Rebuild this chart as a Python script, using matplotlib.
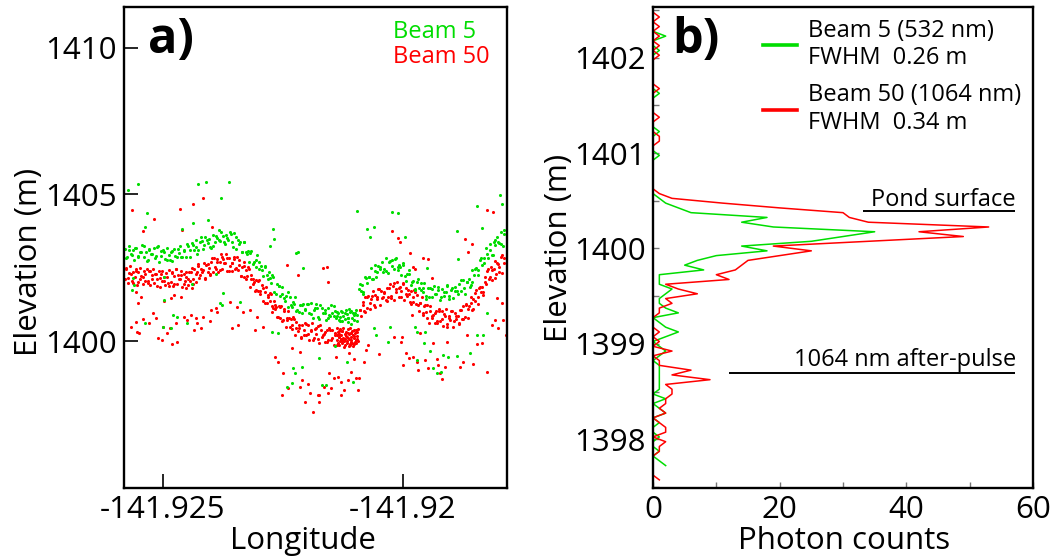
import numpy as np
import matplotlib
matplotlib.use("Agg")
import matplotlib.pyplot as plt
from matplotlib.ticker import MultipleLocator

plt.rcParams['font.family'] = ['Open Sans', 'DejaVu Sans']

GREEN = '#00dd00'
RED = '#ff0000'

# ---------------- panel a: photon returns (longitude, elevation) ----------------
# Beam 5 (532 nm) surface returns
beam5_band = [
    (-141.92578, 1403.15), (-141.92575, 1402.85), (-141.92571, 1403.25), (-141.92567, 1402.97), (-141.92563, 1403.10),
    (-141.92560, 1402.78), (-141.92556, 1403.18), (-141.92551, 1402.89), (-141.92547, 1403.02), (-141.92544, 1403.26),
    (-141.92540, 1402.85), (-141.92535, 1403.04), (-141.92531, 1402.78), (-141.92528, 1403.13), (-141.92524, 1402.96),
    (-141.92519, 1403.17), (-141.92515, 1402.89), (-141.92512, 1403.21), (-141.92508, 1402.70), (-141.92503, 1403.07),
    (-141.92499, 1403.09), (-141.92496, 1402.79), (-141.92492, 1403.19), (-141.92487, 1402.92), (-141.92483, 1403.05),
    (-141.92480, 1402.73), (-141.92476, 1403.14), (-141.92471, 1402.86), (-141.92467, 1402.99), (-141.92464, 1403.24),
    (-141.92460, 1402.86), (-141.92455, 1403.09), (-141.92451, 1402.86), (-141.92448, 1403.23), (-141.92444, 1403.10),
    (-141.92439, 1403.35), (-141.92435, 1403.09), (-141.92432, 1403.45), (-141.92428, 1402.96), (-141.92423, 1403.37),
    (-141.92419, 1403.42), (-141.92416, 1403.14), (-141.92412, 1403.56), (-141.92407, 1403.33), (-141.92403, 1403.48),
    (-141.92400, 1403.18), (-141.92396, 1403.62), (-141.92391, 1403.37), (-141.92387, 1403.53), (-141.92384, 1403.79),
    (-141.92380, 1403.40), (-141.92375, 1403.58), (-141.92371, 1403.30), (-141.92368, 1403.63), (-141.92364, 1403.46),
    (-141.92359, 1403.66), (-141.92355, 1403.37), (-141.92352, 1403.69), (-141.92348, 1403.14), (-141.92343, 1403.43),
    (-141.92339, 1403.38), (-141.92336, 1403.03), (-141.92332, 1403.37), (-141.92327, 1403.02), (-141.92323, 1403.08),
    (-141.92320, 1402.71), (-141.92316, 1403.06), (-141.92311, 1402.69), (-141.92307, 1402.76), (-141.92304, 1402.95),
    (-141.92300, 1402.47), (-141.92295, 1402.57), (-141.92291, 1402.23), (-141.92288, 1402.51), (-141.92284, 1402.26),
    (-141.92279, 1402.36), (-141.92275, 1401.99), (-141.92272, 1402.26), (-141.92268, 1401.66), (-141.92263, 1401.93),
    (-141.92259, 1401.88), (-141.92256, 1401.52), (-141.92252, 1401.84), (-141.92247, 1401.48), (-141.92243, 1401.53),
    (-141.92240, 1401.16), (-141.92236, 1401.49), (-141.92231, 1401.17), (-141.92227, 1401.27), (-141.92224, 1401.50),
    (-141.92220, 1401.06), (-141.92215, 1401.23), (-141.92211, 1400.95), (-141.92208, 1401.28), (-141.92204, 1401.10),
    (-141.92199, 1401.28), (-141.92195, 1400.97), (-141.92192, 1401.30), (-141.92188, 1400.77), (-141.92183, 1401.13),
    (-141.92179, 1401.14), (-141.92176, 1400.83), (-141.92172, 1401.22), (-141.92167, 1400.94), (-141.92163, 1401.06),
    (-141.92160, 1400.73), (-141.92156, 1401.13), (-141.92151, 1400.84), (-141.92147, 1400.96), (-141.92144, 1401.19),
    (-141.92140, 1400.78), (-141.92135, 1400.97), (-141.92131, 1400.70), (-141.92128, 1401.04), (-141.92124, 1400.87),
    (-141.92119, 1401.07), (-141.92115, 1400.78), (-141.92112, 1401.10), (-141.92108, 1400.58), (-141.92103, 1400.95),
    (-141.92099, 1400.97), (-141.92096, 1400.67),
    (-141.92153, 1400.88), (-141.92142, 1401.02), (-141.92137, 1400.86), (-141.92126, 1400.99), (-141.92121, 1400.74),
    (-141.92117, 1400.93), (-141.92110, 1401.00), (-141.92106, 1400.80), (-141.92101, 1400.90), (-141.92097, 1401.05),
    (-141.92114, 1400.66), (-141.92130, 1400.83),
    (-141.92091, 1401.77), (-141.92088, 1401.70), (-141.92085, 1401.90), (-141.92082, 1401.66), (-141.92078, 1402.17),
    (-141.92074, 1401.99), (-141.92071, 1402.20), (-141.92067, 1402.50), (-141.92063, 1402.13), (-141.92059, 1402.38),
    (-141.92055, 1402.17), (-141.92051, 1402.56), (-141.92047, 1402.45), (-141.92043, 1402.71), (-141.92039, 1402.47),
    (-141.92035, 1402.82), (-141.92031, 1402.33), (-141.92027, 1402.72), (-141.92023, 1402.76), (-141.92019, 1402.46),
    (-141.92015, 1402.82), (-141.92011, 1402.51), (-141.92007, 1402.60), (-141.92003, 1402.24), (-141.91999, 1402.60),
    (-141.91995, 1402.23), (-141.91991, 1402.27), (-141.91987, 1402.42), (-141.91983, 1401.92), (-141.91979, 1402.04),
    (-141.91975, 1401.73), (-141.91971, 1402.03), (-141.91967, 1401.82), (-141.91963, 1401.98), (-141.91959, 1401.66),
    (-141.91955, 1401.97), (-141.91951, 1401.45), (-141.91947, 1401.81), (-141.91943, 1401.82), (-141.91939, 1401.51),
    (-141.91935, 1401.89), (-141.91931, 1401.61), (-141.91927, 1401.73), (-141.91923, 1401.39), (-141.91919, 1401.79),
    (-141.91915, 1401.52), (-141.91911, 1401.66), (-141.91907, 1401.91), (-141.91903, 1401.52), (-141.91899, 1401.73),
    (-141.91895, 1401.48), (-141.91891, 1401.84), (-141.91887, 1401.71), (-141.91883, 1401.96), (-141.91879, 1401.72),
    (-141.91875, 1402.09), (-141.91871, 1401.62), (-141.91867, 1402.03), (-141.91863, 1402.12), (-141.91859, 1401.92),
    (-141.91855, 1402.42), (-141.91851, 1402.25), (-141.91847, 1402.48), (-141.91843, 1402.26), (-141.91839, 1402.77),
    (-141.91835, 1402.59), (-141.91831, 1402.82), (-141.91827, 1403.16), (-141.91823, 1402.84), (-141.91819, 1403.12),
    (-141.91815, 1402.94), (-141.91811, 1403.37), (-141.91807, 1403.29), (-141.91803, 1403.56), (-141.91799, 1403.33),
    (-141.91795, 1403.71), (-141.91791, 1403.24), (-141.91789, 1403.64),
    # second sweep along the track
    (-141.92576, 1402.83), (-141.92570, 1403.12), (-141.92564, 1402.95), (-141.92558, 1403.19), (-141.92552, 1402.87),
    (-141.92546, 1403.03), (-141.92540, 1403.23), (-141.92534, 1402.74), (-141.92528, 1403.12), (-141.92522, 1402.97),
    (-141.92516, 1402.82), (-141.92510, 1403.24), (-141.92504, 1402.91), (-141.92498, 1403.04), (-141.92492, 1402.78),
    (-141.92486, 1402.77), (-141.92480, 1403.06), (-141.92474, 1402.90), (-141.92468, 1403.15), (-141.92462, 1402.86),
    (-141.92456, 1403.06), (-141.92450, 1403.30), (-141.92444, 1402.87), (-141.92438, 1403.29), (-141.92432, 1403.20),
    (-141.92426, 1403.09), (-141.92420, 1403.56), (-141.92414, 1403.27), (-141.92408, 1403.44), (-141.92402, 1403.22),
    (-141.92396, 1403.25), (-141.92390, 1403.58), (-141.92384, 1403.46), (-141.92378, 1403.72), (-141.92372, 1403.39),
    (-141.92366, 1403.53), (-141.92360, 1403.71), (-141.92354, 1403.21), (-141.92348, 1403.54), (-141.92342, 1403.30),
    (-141.92336, 1403.05), (-141.92330, 1403.39), (-141.92324, 1402.96), (-141.92318, 1402.99), (-141.92312, 1402.63),
    (-141.92306, 1402.52), (-141.92300, 1402.71), (-141.92294, 1402.43), (-141.92288, 1402.55), (-141.92282, 1402.11),
    (-141.92276, 1402.14), (-141.92270, 1402.20), (-141.92264, 1401.60), (-141.92258, 1401.87), (-141.92252, 1401.61),
    (-141.92246, 1401.35), (-141.92240, 1401.67), (-141.92234, 1401.24), (-141.92228, 1401.33), (-141.92222, 1401.03),
    (-141.92216, 1400.99), (-141.92210, 1401.24), (-141.92204, 1401.05), (-141.92198, 1401.26), (-141.92192, 1400.93),
    (-141.92186, 1401.07), (-141.92180, 1401.25), (-141.92174, 1400.76), (-141.92168, 1401.12), (-141.92162, 1400.96),
    (-141.92156, 1400.80), (-141.92150, 1401.22), (-141.92144, 1400.87), (-141.92138, 1400.99), (-141.92132, 1400.72),
    (-141.92126, 1400.69), (-141.92120, 1400.97), (-141.92114, 1400.79), (-141.92108, 1401.03), (-141.92102, 1400.72),
    (-141.92096, 1400.88), (-141.92089, 1401.93), (-141.92083, 1401.62), (-141.92077, 1402.16), (-141.92071, 1402.17),
    (-141.92065, 1402.10), (-141.92059, 1402.60), (-141.92053, 1402.34), (-141.92047, 1402.54), (-141.92041, 1402.35),
    (-141.92035, 1402.38), (-141.92029, 1402.70), (-141.92023, 1402.57), (-141.92017, 1402.80), (-141.92011, 1402.43),
    (-141.92005, 1402.53), (-141.91999, 1402.66), (-141.91993, 1402.04), (-141.91987, 1402.29), (-141.91981, 1402.01),
    (-141.91975, 1401.78), (-141.91969, 1402.13), (-141.91963, 1401.73), (-141.91957, 1401.81), (-141.91951, 1401.53),
    (-141.91945, 1401.50), (-141.91939, 1401.78), (-141.91933, 1401.60), (-141.91927, 1401.83), (-141.91921, 1401.49),
    (-141.91915, 1401.66), (-141.91909, 1401.88), (-141.91903, 1401.42), (-141.91897, 1401.81), (-141.91891, 1401.69),
    (-141.91885, 1401.59), (-141.91879, 1402.08), (-141.91873, 1401.81), (-141.91867, 1402.00), (-141.91861, 1401.86),
    (-141.91855, 1402.00), (-141.91849, 1402.44), (-141.91843, 1402.43), (-141.91837, 1402.83), (-141.91831, 1402.67),
    (-141.91825, 1402.98), (-141.91819, 1403.30), (-141.91813, 1402.94), (-141.91807, 1403.44), (-141.91801, 1403.39),
    (-141.91795, 1403.31), (-141.91790, 1403.80),
]

# Beam 5 scattered (background / sub-surface) photons
beam5_noise = [
    (-141.92573, 1405.15), (-141.92552, 1405.35), (-141.92427, 1405.35), (-141.92410, 1405.42), (-141.92362, 1405.42),
    (-141.92379, 1404.88), (-141.92533, 1404.36), (-141.92460, 1403.82), (-141.92406, 1404.12), (-141.92438, 1404.02),
    (-141.92537, 1403.89), (-141.92271, 1403.82), (-141.92269, 1403.48), (-141.92277, 1403.24), (-141.92219, 1403.03),
    (-141.92208, 1402.49), (-141.92096, 1404.43), (-141.92075, 1403.82), (-141.92069, 1403.55), (-141.92023, 1404.40),
    (-141.92010, 1404.36), (-141.92060, 1403.89), (-141.91996, 1403.55), (-141.91846, 1404.60), (-141.91798, 1404.98),
    (-141.91794, 1404.67), (-141.91835, 1403.85), (-141.91887, 1403.75), (-141.91950, 1402.49), (-141.91885, 1402.80),
    (-141.92229, 1399.08), (-141.92242, 1398.43), (-141.92210, 1399.11), (-141.92169, 1398.50), (-141.92117, 1399.28),
    (-141.92142, 1399.83), (-141.91938, 1399.08), (-141.91929, 1398.91), (-141.91906, 1399.45), (-141.91846, 1400.20),
    (-141.91971, 1400.31), (-141.92027, 1400.48), (-141.92537, 1400.61), (-141.92500, 1400.48), (-141.92340, 1401.33),
    (-141.92381, 1401.30), (-141.92479, 1400.89), (-141.92562, 1402.15), (-141.92498, 1401.40), (-141.92377, 1401.23),
    (-141.92471, 1400.82), (-141.92483, 1400.44), (-141.92450, 1400.61), (-141.92565, 1401.74), (-141.92375, 1401.64),
    (-141.92223, 1403.00), (-141.92260, 1400.27), (-141.92273, 1400.31), (-141.92225, 1398.91), (-141.92231, 1398.57),
    (-141.91975, 1400.48), (-141.92060, 1400.44), (-141.92056, 1400.20), (-141.92031, 1399.97), (-141.92175, 1399.42),
    (-141.92104, 1398.60), (-141.92160, 1398.50), (-141.91954, 1400.31), (-141.91956, 1399.93), (-141.91971, 1399.35),
    (-141.91944, 1399.66), (-141.91917, 1399.52), (-141.91887, 1399.49), (-141.91860, 1399.59), (-141.91921, 1398.94),
    (-141.91833, 1400.20), (-141.91825, 1400.95), (-141.92498, 1402.20), (-141.92440, 1401.95), (-141.92560, 1401.90),
    (-141.92390, 1402.30),
]

# Beam 50 (1064 nm) surface returns
beam50_band = [
    (-141.92578, 1402.11), (-141.92576, 1402.46), (-141.92573, 1401.97), (-141.92570, 1402.31), (-141.92568, 1402.55),
    (-141.92565, 1402.05), (-141.92562, 1402.35), (-141.92559, 1402.18), (-141.92557, 1402.47), (-141.92554, 1401.91),
    (-141.92551, 1402.37), (-141.92548, 1402.13), (-141.92545, 1402.22), (-141.92542, 1401.96), (-141.92540, 1402.38),
    (-141.92537, 1402.04), (-141.92534, 1402.47), (-141.92531, 1402.04), (-141.92529, 1402.39), (-141.92526, 1401.90),
    (-141.92523, 1402.24), (-141.92520, 1402.47), (-141.92518, 1401.97), (-141.92515, 1402.28), (-141.92512, 1402.13),
    (-141.92509, 1402.40), (-141.92507, 1401.84), (-141.92504, 1402.30), (-141.92501, 1402.06), (-141.92498, 1402.17),
    (-141.92496, 1401.91), (-141.92493, 1402.33), (-141.92490, 1401.99), (-141.92487, 1402.42), (-141.92484, 1402.01),
    (-141.92482, 1402.36), (-141.92479, 1401.87), (-141.92476, 1402.21), (-141.92473, 1402.45), (-141.92471, 1401.95),
    (-141.92468, 1402.26), (-141.92465, 1402.11), (-141.92462, 1402.40), (-141.92460, 1401.84), (-141.92457, 1402.30),
    (-141.92454, 1402.06), (-141.92451, 1402.17), (-141.92448, 1401.92), (-141.92446, 1402.36), (-141.92443, 1402.04),
    (-141.92440, 1402.49), (-141.92437, 1402.10), (-141.92435, 1402.47), (-141.92432, 1402.00), (-141.92429, 1402.36),
    (-141.92426, 1402.62), (-141.92424, 1402.14), (-141.92421, 1402.47), (-141.92418, 1402.34), (-141.92415, 1402.65),
    (-141.92413, 1402.10), (-141.92410, 1402.59), (-141.92407, 1402.37), (-141.92404, 1402.50), (-141.92402, 1402.25),
    (-141.92399, 1402.69), (-141.92396, 1402.37), (-141.92393, 1402.83), (-141.92390, 1402.44), (-141.92388, 1402.81),
    (-141.92385, 1402.34), (-141.92382, 1402.70), (-141.92379, 1402.96), (-141.92377, 1402.47), (-141.92374, 1402.80),
    (-141.92371, 1402.67), (-141.92368, 1402.96), (-141.92366, 1402.39), (-141.92363, 1402.83), (-141.92360, 1402.57),
    (-141.92357, 1402.67), (-141.92355, 1402.40), (-141.92352, 1402.80), (-141.92349, 1402.44), (-141.92346, 1402.86),
    (-141.92343, 1402.43), (-141.92341, 1402.77), (-141.92338, 1402.23), (-141.92335, 1402.52), (-141.92332, 1402.70),
    (-141.92330, 1402.17), (-141.92327, 1402.42), (-141.92324, 1402.22), (-141.92321, 1402.45), (-141.92319, 1401.85),
    (-141.92316, 1402.26), (-141.92313, 1401.96), (-141.92310, 1402.02), (-141.92308, 1401.72), (-141.92305, 1402.09),
    (-141.92302, 1401.69), (-141.92299, 1402.07), (-141.92297, 1401.62), (-141.92294, 1401.92), (-141.92291, 1401.37),
    (-141.92288, 1401.66), (-141.92286, 1401.86), (-141.92283, 1401.30), (-141.92280, 1401.56), (-141.92277, 1401.35),
    (-141.92275, 1401.60), (-141.92272, 1400.98), (-141.92269, 1401.38), (-141.92266, 1401.08), (-141.92264, 1401.15),
    (-141.92261, 1400.83), (-141.92258, 1401.19), (-141.92255, 1400.79), (-141.92253, 1401.18), (-141.92250, 1400.71),
    (-141.92247, 1401.02), (-141.92244, 1400.49), (-141.92241, 1400.80), (-141.92239, 1401.01), (-141.92236, 1400.47),
    (-141.92233, 1400.74), (-141.92230, 1400.55), (-141.92228, 1400.82), (-141.92225, 1400.22), (-141.92222, 1400.64),
    (-141.92219, 1400.36), (-141.92216, 1400.43), (-141.92213, 1400.15), (-141.92210, 1400.56), (-141.92207, 1400.21),
    (-141.92204, 1400.63), (-141.92201, 1400.21), (-141.92198, 1400.55), (-141.92195, 1400.05), (-141.92192, 1400.38),
    (-141.92189, 1400.61), (-141.92186, 1400.10), (-141.92183, 1400.40), (-141.92180, 1400.24), (-141.92177, 1400.52),
    (-141.92174, 1399.94), (-141.92171, 1400.39), (-141.92168, 1400.15), (-141.92165, 1400.25), (-141.92162, 1399.98),
    (-141.92159, 1400.39), (-141.92156, 1400.04), (-141.92153, 1400.46), (-141.92150, 1400.04), (-141.92147, 1400.38),
    (-141.92144, 1399.88), (-141.92141, 1400.21), (-141.92138, 1400.45), (-141.92135, 1399.94), (-141.92132, 1400.24),
    (-141.92129, 1400.08), (-141.92126, 1400.36), (-141.92123, 1399.80), (-141.92120, 1400.25), (-141.92117, 1400.01),
    (-141.92114, 1400.12), (-141.92111, 1399.86), (-141.92108, 1400.28), (-141.92105, 1399.94), (-141.92102, 1400.37),
    (-141.92099, 1399.96), (-141.92096, 1400.31),
    (-141.92138, 1400.02), (-141.92136, 1400.30), (-141.92134, 1400.15), (-141.92133, 1399.85), (-141.92131, 1400.40),
    (-141.92130, 1400.00), (-141.92128, 1400.20), (-141.92127, 1399.92), (-141.92125, 1400.12), (-141.92124, 1400.44),
    (-141.92122, 1400.05), (-141.92121, 1399.88), (-141.92119, 1400.32), (-141.92118, 1400.18), (-141.92116, 1399.95),
    (-141.92115, 1400.42), (-141.92113, 1400.08), (-141.92112, 1400.25), (-141.92110, 1399.90), (-141.92109, 1400.14),
    (-141.92107, 1400.02), (-141.92106, 1400.35), (-141.92104, 1400.20), (-141.92103, 1399.84), (-141.92101, 1400.10),
    (-141.92100, 1400.28), (-141.92098, 1400.05), (-141.92097, 1399.93), (-141.92095, 1400.17), (-141.92094, 1400.40),
    (-141.92093, 1400.00), (-141.92137, 1400.22), (-141.92132, 1400.36), (-141.92126, 1400.00), (-141.92120, 1400.06),
    (-141.92114, 1400.28), (-141.92108, 1399.98), (-141.92102, 1400.16), (-141.92096, 1400.08), (-141.92111, 1400.45),
    (-141.92090, 1401.07), (-141.92087, 1400.86), (-141.92084, 1401.32), (-141.92081, 1401.03), (-141.92078, 1401.50),
    (-141.92075, 1401.14), (-141.92072, 1401.53), (-141.92069, 1401.08), (-141.92066, 1401.45), (-141.92063, 1401.71),
    (-141.92060, 1401.24), (-141.92057, 1401.58), (-141.92054, 1401.45), (-141.92051, 1401.77), (-141.92048, 1401.24),
    (-141.92045, 1401.72), (-141.92042, 1401.51), (-141.92039, 1401.64), (-141.92036, 1401.39), (-141.92033, 1401.82),
    (-141.92030, 1401.49), (-141.92027, 1401.93), (-141.92024, 1401.53), (-141.92021, 1401.89), (-141.92018, 1401.41),
    (-141.92015, 1401.76), (-141.92012, 1402.00), (-141.92009, 1401.51), (-141.92006, 1401.83), (-141.92003, 1401.69),
    (-141.92000, 1401.99), (-141.91997, 1401.40), (-141.91994, 1401.82), (-141.91991, 1401.54), (-141.91988, 1401.62),
    (-141.91985, 1401.32), (-141.91982, 1401.71), (-141.91979, 1401.33), (-141.91976, 1401.73), (-141.91973, 1401.27),
    (-141.91970, 1401.57), (-141.91967, 1401.02), (-141.91964, 1401.31), (-141.91961, 1401.50), (-141.91958, 1400.94),
    (-141.91955, 1401.20), (-141.91952, 1400.99), (-141.91949, 1401.23), (-141.91946, 1400.62), (-141.91943, 1401.04),
    (-141.91940, 1400.79), (-141.91937, 1400.89), (-141.91934, 1400.62), (-141.91931, 1401.03), (-141.91928, 1400.68),
    (-141.91925, 1401.10), (-141.91922, 1400.68), (-141.91919, 1401.02), (-141.91916, 1400.52), (-141.91913, 1400.85),
    (-141.91910, 1401.08), (-141.91907, 1400.57), (-141.91904, 1400.87), (-141.91901, 1400.72), (-141.91898, 1401.03),
    (-141.91895, 1400.49), (-141.91892, 1400.97), (-141.91889, 1400.74), (-141.91886, 1400.87), (-141.91883, 1400.63),
    (-141.91880, 1401.07), (-141.91877, 1400.75), (-141.91874, 1401.20), (-141.91871, 1400.81), (-141.91868, 1401.22),
    (-141.91865, 1400.80), (-141.91862, 1401.20), (-141.91859, 1401.51), (-141.91856, 1401.07), (-141.91853, 1401.45),
    (-141.91850, 1401.36), (-141.91847, 1401.74), (-141.91844, 1401.26), (-141.91841, 1401.81), (-141.91838, 1401.66),
    (-141.91835, 1401.86), (-141.91832, 1401.68), (-141.91829, 1402.19), (-141.91826, 1401.94), (-141.91823, 1402.45),
    (-141.91820, 1402.13), (-141.91817, 1402.54), (-141.91814, 1402.09), (-141.91811, 1402.46), (-141.91808, 1402.74),
    (-141.91805, 1402.28), (-141.91802, 1402.63), (-141.91799, 1402.52), (-141.91796, 1402.85), (-141.91793, 1402.33),
    (-141.91790, 1402.82),
    # second sweep along the track
    (-141.92577, 1402.49), (-141.92572, 1402.15), (-141.92567, 1402.28), (-141.92562, 1401.97), (-141.92557, 1402.38),
    (-141.92552, 1402.03), (-141.92547, 1402.50), (-141.92542, 1402.18), (-141.92537, 1402.29), (-141.92532, 1401.97),
    (-141.92527, 1402.38), (-141.92522, 1402.11), (-141.92517, 1402.30), (-141.92512, 1401.87), (-141.92507, 1402.16),
    (-141.92502, 1402.39), (-141.92497, 1402.05), (-141.92492, 1402.19), (-141.92487, 1401.88), (-141.92482, 1402.31),
    (-141.92477, 1401.96), (-141.92472, 1402.44), (-141.92467, 1402.13), (-141.92462, 1402.24), (-141.92457, 1401.93),
    (-141.92452, 1402.35), (-141.92447, 1402.11), (-141.92442, 1402.34), (-141.92437, 1401.95), (-141.92432, 1402.29),
    (-141.92427, 1402.55), (-141.92422, 1402.25), (-141.92417, 1402.43), (-141.92412, 1402.15), (-141.92407, 1402.62),
    (-141.92402, 1402.30), (-141.92397, 1402.82), (-141.92392, 1402.54), (-141.92387, 1402.69), (-141.92382, 1402.42),
    (-141.92377, 1402.87), (-141.92372, 1402.65), (-141.92367, 1402.83), (-141.92362, 1402.38), (-141.92357, 1402.66),
    (-141.92352, 1402.86), (-141.92347, 1402.49), (-141.92342, 1402.60), (-141.92337, 1402.23), (-141.92332, 1402.56),
    (-141.92327, 1402.12), (-141.92322, 1402.51), (-141.92317, 1402.11), (-141.92312, 1402.13), (-141.92307, 1401.73),
    (-141.92302, 1402.05), (-141.92297, 1401.70), (-141.92292, 1401.80), (-141.92287, 1401.29), (-141.92282, 1401.50),
    (-141.92277, 1401.63), (-141.92272, 1401.19), (-141.92267, 1401.23), (-141.92262, 1400.82), (-141.92257, 1401.15),
    (-141.92252, 1400.70), (-141.92247, 1401.10), (-141.92242, 1400.73), (-141.92237, 1400.77), (-141.92232, 1400.40),
    (-141.92227, 1400.75), (-141.92222, 1400.43), (-141.92217, 1400.56), (-141.92212, 1400.10), (-141.92207, 1400.38),
    (-141.92202, 1400.59), (-141.92197, 1400.24), (-141.92192, 1400.36), (-141.92187, 1400.03), (-141.92182, 1400.44),
    (-141.92177, 1400.07), (-141.92172, 1400.54), (-141.92167, 1400.21), (-141.92162, 1400.31), (-141.92157, 1399.98),
    (-141.92152, 1400.39), (-141.92147, 1400.11), (-141.92142, 1400.29), (-141.92137, 1399.85), (-141.92132, 1400.14),
    (-141.92127, 1400.36), (-141.92122, 1400.00), (-141.92117, 1400.14), (-141.92112, 1399.83), (-141.92107, 1400.26),
    (-141.92102, 1399.91), (-141.92097, 1400.39), (-141.92089, 1401.05), (-141.92084, 1401.23), (-141.92079, 1401.00),
    (-141.92074, 1401.49), (-141.92069, 1401.30), (-141.92064, 1401.53), (-141.92059, 1401.16), (-141.92054, 1401.50),
    (-141.92049, 1401.78), (-141.92044, 1401.48), (-141.92039, 1401.66), (-141.92034, 1401.37), (-141.92029, 1401.81),
    (-141.92024, 1401.48), (-141.92019, 1401.97), (-141.92014, 1401.68), (-141.92009, 1401.80), (-141.92004, 1401.51),
    (-141.91999, 1401.93), (-141.91994, 1401.61), (-141.91989, 1401.74), (-141.91984, 1401.26), (-141.91979, 1401.50),
    (-141.91974, 1401.67), (-141.91969, 1401.24), (-141.91964, 1401.29), (-141.91959, 1400.89), (-141.91954, 1401.23),
    (-141.91949, 1400.79), (-141.91944, 1401.18), (-141.91939, 1400.86), (-141.91934, 1400.95), (-141.91929, 1400.62),
    (-141.91924, 1401.02), (-141.91919, 1400.75), (-141.91914, 1400.92), (-141.91909, 1400.48), (-141.91904, 1400.77),
    (-141.91899, 1401.01), (-141.91894, 1400.70), (-141.91889, 1400.87), (-141.91884, 1400.59), (-141.91879, 1401.06),
    (-141.91874, 1400.74), (-141.91869, 1401.28), (-141.91864, 1401.08), (-141.91859, 1401.30), (-141.91854, 1401.09),
    (-141.91849, 1401.63), (-141.91844, 1401.51), (-141.91839, 1401.85), (-141.91834, 1401.57), (-141.91829, 1402.02),
    (-141.91824, 1402.39), (-141.91819, 1402.20), (-141.91814, 1402.41), (-141.91809, 1402.16), (-141.91804, 1402.66),
    (-141.91799, 1402.37), (-141.91794, 1402.92), (-141.91789, 1402.67),
]

# Beam 50 scattered photons (above surface and the after-pulse cloud below it)
beam50_noise = [
    (-141.92565, 1404.47), (-141.92465, 1404.50), (-141.92438, 1404.67), (-141.92417, 1404.88), (-141.92519, 1404.16),
    (-141.92460, 1403.78), (-141.92167, 1402.49), (-141.92158, 1402.52), (-141.92023, 1403.75), (-141.92010, 1403.51),
    (-141.92006, 1403.38), (-141.91958, 1402.83), (-141.91979, 1402.52), (-141.91825, 1404.47), (-141.91871, 1403.48),
    (-141.92242, 1402.59), (-141.92219, 1402.25), (-141.92542, 1403.75), (-141.92398, 1403.89), (-141.92156, 1402.01),
    (-141.91812, 1404.40), (-141.91856, 1403.30), (-141.91865, 1403.03), (-141.91975, 1402.45), (-141.91948, 1402.80),
    (-141.91985, 1403.00), (-141.91940, 1402.15), (-141.91794, 1401.30), (-141.91804, 1401.47),
    (-141.92567, 1400.48), (-141.92556, 1400.65), (-141.92554, 1400.31), (-141.92550, 1400.27), (-141.92542, 1400.75),
    (-141.92529, 1400.61), (-141.92521, 1400.95), (-141.92515, 1400.78), (-141.92510, 1400.10), (-141.92502, 1400.03),
    (-141.92500, 1400.48), (-141.92492, 1400.27), (-141.92485, 1400.44), (-141.92481, 1399.90), (-141.92473, 1400.61),
    (-141.92471, 1399.97), (-141.92456, 1400.82), (-141.92450, 1400.72), (-141.92442, 1400.89), (-141.92431, 1400.78),
    (-141.92429, 1400.61), (-141.92435, 1400.38), (-141.92421, 1400.44), (-141.92417, 1400.82), (-141.92402, 1400.68),
    (-141.92400, 1401.06), (-141.92390, 1401.13), (-141.92387, 1400.99), (-141.92556, 1401.67), (-141.92546, 1401.50),
    (-141.92477, 1401.57), (-141.92462, 1401.50), (-141.92483, 1401.47), (-141.92552, 1401.30), (-141.92498, 1401.36),
    (-141.92452, 1401.81), (-141.92440, 1401.81),
    (-141.92360, 1401.33), (-141.92346, 1401.16), (-141.92333, 1400.99), (-141.92344, 1400.55), (-141.92356, 1400.44),
    (-141.92319, 1401.06), (-141.92308, 1400.38), (-141.92304, 1400.82), (-141.92292, 1400.48), (-141.92271, 1401.13),
    (-141.92267, 1399.45), (-141.92260, 1399.28), (-141.92250, 1398.91), (-141.92240, 1398.40), (-141.92252, 1398.16),
    (-141.92210, 1398.67), (-141.92215, 1398.43), (-141.92198, 1398.53), (-141.92194, 1398.23), (-141.92204, 1397.92),
    (-141.92187, 1397.58), (-141.92177, 1398.16), (-141.92215, 1399.62), (-141.92231, 1399.76),
    (-141.92154, 1398.91), (-141.92144, 1398.74), (-141.92135, 1398.77), (-141.92129, 1398.60), (-141.92123, 1398.33),
    (-141.92115, 1398.67), (-141.92108, 1398.94), (-141.92098, 1398.74), (-141.92092, 1398.74), (-141.92094, 1398.33),
    (-141.92150, 1398.40), (-141.92165, 1398.43), (-141.92175, 1398.16), (-141.92156, 1398.23), (-141.92129, 1398.16),
    (-141.92175, 1397.92), (-141.92077, 1399.69), (-141.92073, 1399.86), (-141.92050, 1399.55), (-141.92019, 1400.14),
    (-141.92004, 1399.97), (-141.92002, 1400.14), (-141.91994, 1399.59), (-141.92000, 1399.18), (-141.91987, 1399.42),
    (-141.92102, 1399.39), (-141.92081, 1399.28), (-141.92112, 1399.59), (-141.92140, 1399.45),
    (-141.91981, 1400.89), (-141.91965, 1400.27), (-141.91937, 1399.93), (-141.91908, 1399.97), (-141.91867, 1400.20),
    (-141.91846, 1399.90), (-141.91835, 1399.93), (-141.91815, 1400.55), (-141.91808, 1400.72), (-141.91802, 1400.44),
    (-141.91792, 1400.72), (-141.91786, 1400.20), (-141.91979, 1399.45), (-141.91971, 1399.28), (-141.91954, 1399.35),
    (-141.91948, 1399.08), (-141.91929, 1399.39), (-141.91927, 1399.18), (-141.91923, 1398.91), (-141.91969, 1399.01),
    (-141.91912, 1399.11), (-141.91881, 1399.11), (-141.91875, 1399.28), (-141.91854, 1399.22), (-141.91825, 1398.94),
    (-141.91919, 1398.70),
]

# ---------------- panel b: photon-count profiles, 5 cm bins from the top down ----------------
bin_top = 1402.475
bin_step = 0.05
counts5 = [
    0, 0, 0, 0, 0, 2, 0, 0, 1, 0,
    0, 0, 0, 0, 0, 0, 0, 1, 0, 0,
    0, 0, 0, 0, 0, 1, 0, 0, 0, 0,
    1, 0, 0, 0, 0, 0, 0, 0, 0, 1,
    2, 4, 6, 18, 14, 19, 35, 30, 25, 14,
    18, 10, 7, 5, 8, 1, 1, 1, 3, 2,
    1, 1, 2, 4, 0, 1, 2, 4, 2, 0,
    1, 2, 1, 0, 1, 1, 1, 1, 1, 1,
    0, 2, 0, 1, 2, 0, 1, 0, 0, 1,
    0, 0, 1, 0, 1, 2,
]
counts50 = [
    0, 1, 0, 1, 0, 1, 0, 1, 0, 1,
    0, 0, 0, 0, 0, 0, 1, 0, 0, 0,
    0, 0, 1, 0, 0, 0, 1, 1, 0, 0,
    0, 0, 0, 0, 0, 0, 0, 0, 1, 3,
    11, 20, 30, 31, 34, 53, 42, 49, 34, 19,
    25, 20, 15, 14, 13, 10, 12, 2, 4, 7,
    2, 3, 1, 1, 0, 0, 0, 1, 0, 1,
    0, 3, 0, 1, 1, 6, 3, 9, 2, 3,
    3, 2, 2, 1, 2, 0, 1, 2, 2, 0,
    2, 1, 1, 0, 0, 0, 0, 0, 1,
]
fwhm5 = 0.26
fwhm50 = 0.34
surface_elev = 1400.39
afterpulse_elev = 1398.69

# ---------------- figure ----------------
fig = plt.figure(figsize=(10.62, 5.6), dpi=100)
ax1 = fig.add_axes([124 / 1062, 72 / 560, 383 / 1062, 481 / 560])
ax2 = fig.add_axes([653 / 1062, 72 / 560, 380 / 1062, 481 / 560])

TICK_FS = 22.5
SMALL_FS = 17

# panel a
lon50, el50 = np.array(beam50_band + beam50_noise).T
lon5, el5 = np.array(beam5_band + beam5_noise).T
ax1.scatter(lon50, el50, s=5, marker='o', color=RED, linewidths=0)
ax1.scatter(lon5, el5, s=5, marker='o', color=GREEN, linewidths=0)
ax1.set_xlim(-141.92581, -141.91783)
ax1.set_ylim(1394.99, 1411.39)
ax1.set_xticks([-141.925, -141.92])
ax1.set_xticklabels(['-141.925', '-141.92'])
ax1.set_yticks([1400, 1405, 1410])
ax1.tick_params(direction='in', length=10, width=1.2, labelsize=TICK_FS, pad=5)
ax1.set_xlabel('Longitude', fontsize=TICK_FS)
ax1.set_ylabel('Elevation (m)', fontsize=TICK_FS)
ax1.xaxis.set_label_coords(0.467, -0.079)
ax1.yaxis.set_label_coords(-0.209, 0.47)
ax1.text(0.063, 0.904, 'a)', transform=ax1.transAxes, fontsize=35, fontweight='bold', va='baseline')
ax1.text(0.702, 0.948, 'Beam 5', transform=ax1.transAxes, color=GREEN, fontsize=SMALL_FS, va='center')
ax1.text(0.702, 0.896, 'Beam 50', transform=ax1.transAxes, color=RED, fontsize=SMALL_FS, va='center')

# panel b
bins5 = bin_top - bin_step * np.arange(len(counts5))
bins50 = bin_top - bin_step * np.arange(len(counts50))
ax2.plot(counts5, bins5, color=GREEN, lw=1.1, label=f'Beam 5 (532 nm)\nFWHM  {fwhm5:.2f} m')
ax2.plot(counts50, bins50, color=RED, lw=1.1, label=f'Beam 50 (1064 nm)\nFWHM  {fwhm50:.2f} m')
ax2.set_xlim(0, 60)
ax2.set_ylim(1397.49, 1402.53)
ax2.xaxis.set_major_locator(MultipleLocator(20))
ax2.xaxis.set_minor_locator(MultipleLocator(10))
ax2.yaxis.set_major_locator(MultipleLocator(1))
ax2.yaxis.set_minor_locator(MultipleLocator(0.5))
ax2.tick_params(which='both', direction='in', length=4, width=1, color='#777777',
                labelsize=TICK_FS, pad=5)
ax2.set_xlabel('Photon counts', fontsize=TICK_FS)
ax2.set_ylabel('Elevation (m)', fontsize=TICK_FS)
ax2.xaxis.set_label_coords(0.503, -0.079)
ax2.yaxis.set_label_coords(-0.209, 0.50)
ax2.text(0.05, 0.904, 'b)', transform=ax2.transAxes, fontsize=35, fontweight='bold', va='baseline')

leg = ax2.legend(loc='upper left', bbox_to_anchor=(0.289, 0.976), frameon=False, fontsize=SMALL_FS,
                 handlelength=1.45, handletextpad=0.45, labelspacing=0.55, borderpad=0, borderaxespad=0)
for line in leg.get_lines():
    line.set_linewidth(2.6)

ax2.hlines(surface_elev, 33.2, 57.2, color='black', lw=1.4)
ax2.text(57.3, surface_elev + 0.05, 'Pond surface', ha='right', va='baseline', fontsize=SMALL_FS)
ax2.hlines(afterpulse_elev, 12.0, 57.2, color='black', lw=1.4)
ax2.text(57.3, afterpulse_elev + 0.08, '1064 nm after-pulse', ha='right', va='baseline', fontsize=SMALL_FS)

for ax in (ax1, ax2):
    for sp in ax.spines.values():
        sp.set_linewidth(1.7)

fig.savefig('out.png', dpi=100)
